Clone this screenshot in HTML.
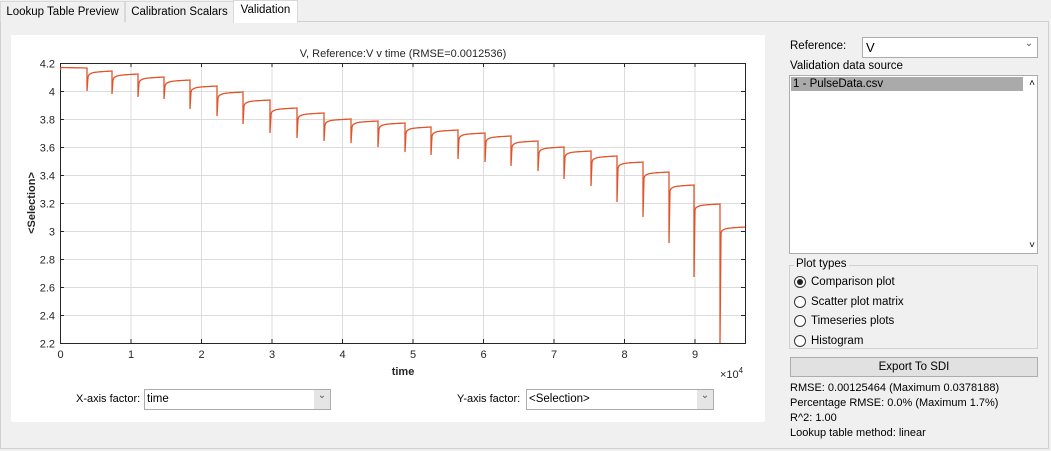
<!DOCTYPE html>
<html><head><meta charset="utf-8"><style>
body{margin:0;width:1051px;height:451px;background:#f0f0f0;font-family:"Liberation Sans",sans-serif;font-size:11.5px;color:#000;position:relative;overflow:hidden}
.a{position:absolute}
.tab{position:absolute;top:1px;height:20px;background:#f0f0f0;border:1px solid #d9d9d9;border-bottom:none;line-height:20px;text-align:center;font-size:11.5px}
.dd{position:absolute;background:#fff;border:1px solid #acacac;box-sizing:border-box}
.dd .ar{position:absolute;right:0;top:0;bottom:0;width:16px;background:#e5e5e5;text-align:center;font-size:10px;color:#555}
.rb{position:absolute;width:12px;height:12px;border:1px solid #333;border-radius:50%;background:#fff;box-sizing:border-box}
</style></head><body>
<div class="a" style="left:0;top:21px;width:1049px;height:428px;border:1px solid #d0d0d0;box-sizing:border-box;background:#f0f0f0"></div>
<div class="tab" style="left:0;width:123px">Lookup Table Preview</div>
<div class="tab" style="left:125px;width:107px">Calibration Scalars</div>
<div class="tab" style="left:233px;width:63px;top:0;height:22px;background:#fff;line-height:19px">Validation</div>
<div class="a" style="left:11px;top:35px;width:754px;height:387px;background:#fff"></div>
<svg class="a" style="left:0;top:0" width="770" height="430" font-family="Liberation Sans, sans-serif">
<g id="grid" stroke="#dcdcdc" stroke-width="1"></g>
<rect x="60.5" y="63.5" width="685" height="280" fill="none" stroke="#262626" stroke-width="1"/>
<g id="ticks" stroke="#262626"></g>
<g id="lbl" font-size="11" fill="#262626"></g>
<path id="cv" fill="none" stroke="#e0542a" stroke-width="1.3"/>
<text x="403" y="57" font-size="11" text-anchor="middle" fill="#262626">V, Reference:V v time (RMSE=0.0012536)</text>
<text x="403" y="375" font-size="11" font-weight="bold" text-anchor="middle" fill="#262626">time</text>
<text x="720" y="378" font-size="11" fill="#262626">×10<tspan dy="-5" font-size="8">4</tspan></text>
<text transform="translate(35,203) rotate(-90)" font-size="11" font-weight="bold" text-anchor="middle" fill="#262626">&lt;Selection&gt;</text>
</svg>
<div class="a" style="left:76px;top:393px;font-size:11px">X-axis factor:</div>
<div class="dd" style="left:144px;top:389px;width:187px;height:21px"><span class="a" style="left:2px;top:3px">time</span><div class="ar">⌄</div></div>
<div class="a" style="left:457px;top:393px;font-size:11px">Y-axis factor:</div>
<div class="dd" style="left:526px;top:389px;width:188px;height:21px"><span class="a" style="left:2px;top:3px">&lt;Selection&gt;</span><div class="ar">⌄</div></div>

<div class="a" style="left:790px;top:40px">Reference:</div>
<div class="dd" style="left:862px;top:37px;width:176px;height:21px"><span class="a" style="left:3px;top:2px;font-size:13px">V</span><div class="ar" style="background:#fff">⌄</div></div>
<div class="a" style="left:790px;top:60px">Validation data source</div>
<div class="dd" style="left:789px;top:75px;width:249px;height:179px"><div class="a" style="left:1px;top:1px;width:230px;height:14px;background:#aaa;padding-left:2px;line-height:14px">1 - PulseData.csv</div><div class="a" style="right:2px;top:2px;font-size:10px">˄</div><div class="a" style="right:2px;bottom:2px;font-size:10px">˅</div></div>
<div class="a" style="left:789px;top:265px;width:249px;height:84px;border:1px solid #d0d0d0;box-sizing:border-box"></div>
<div class="a" style="left:794px;top:258px;background:#f0f0f0;padding:0 2px">Plot types</div>
<div class="rb" style="left:794px;top:276px"><div class="a" style="left:2px;top:2px;width:6px;height:6px;border-radius:50%;background:#222"></div></div>
<div class="a" style="left:811px;top:276px">Comparison plot</div>
<div class="rb" style="left:794px;top:296px"></div><div class="a" style="left:811px;top:296px">Scatter plot matrix</div>
<div class="rb" style="left:794px;top:315px"></div><div class="a" style="left:811px;top:315px">Timeseries plots</div>
<div class="rb" style="left:794px;top:335px"></div><div class="a" style="left:811px;top:335px">Histogram</div>
<div class="a" style="left:790px;top:357px;width:248px;height:20px;background:#e1e1e1;border:1px solid #adadad;box-sizing:border-box;text-align:center;line-height:18px">Export To SDI</div>
<div class="a" style="left:790px;top:381px;line-height:15px;font-size:11px">RMSE: 0.00125464 (Maximum 0.0378188)<br>Percentage RMSE: 0.0% (Maximum 1.7%)<br>R^2: 1.00<br>Lookup table method: linear</div>
<script>
var g=document.getElementById('grid'),t=document.getElementById('ticks'),l=document.getElementById('lbl'),s='',tk='',lb='';
for(var i=0;i<=9;i++){var x=60.5+70.5*i;if(i>0)s+='<line x1="'+x+'" y1="63" x2="'+x+'" y2="343"/>';tk+='<line x1="'+x+'" y1="63" x2="'+x+'" y2="67"/><line x1="'+x+'" y1="343" x2="'+x+'" y2="339"/>';lb+='<text x="'+x+'" y="358" text-anchor="middle">'+i+'</text>';}
for(var j=0;j<=10;j++){var y=63.5+28*j,v=(4.2-0.2*j);if(j>0&&j<10)s+='<line x1="60" y1="'+y+'" x2="745" y2="'+y+'"/>';tk+='<line x1="60" y1="'+y+'" x2="64" y2="'+y+'"/><line x1="745" y1="'+y+'" x2="741" y2="'+y+'"/>';lb+='<text x="55" y="'+(y+4)+'" text-anchor="end">'+(Math.round(v*10)/10)+'</text>';}
g.innerHTML=s;t.innerHTML=tk;l.innerHTML=lb;
var D=[87,112,138,164,190,217,243,270,297,324,351,378,405,431,458,485,511,538,564,591,617,643,669,694,720];
var B=[91,94,97,99,109,116,124,133,138,141,143,147,152,155,159,162,166,171,179,186,202,217,243,277,343];
var E=[68,71,74,77,80,86,92,100,108,113,119,121,123,127,130,133,136,141,147,151,156,162,172,185,204,227];
var p='M60.5,70 L61,67 ';
for(var k=61;k<D[0];k++)p+='L'+k+','+(E[0]-0.5*(D[0]-k)/26).toFixed(1)+' ';
for(var i=0;i<D.length;i++){var x0=D[i],x1=(i<D.length-1?D[i+1]:745),e=E[i+1],st=e+6;
p+='L'+x0+','+E[i]+' L'+x0+','+B[i]+' L'+(x0+1)+','+st+' ';
for(var x=x0+2;x<=x1;x++){var y=e+(st-e)*(0.75*Math.exp(-(x-x0)/3)+0.25*(1-(x-x0)/(x1-x0)));p+='L'+x+','+y.toFixed(1)+' ';}}
document.getElementById('cv').setAttribute('d',p);
</script>
</body></html>
